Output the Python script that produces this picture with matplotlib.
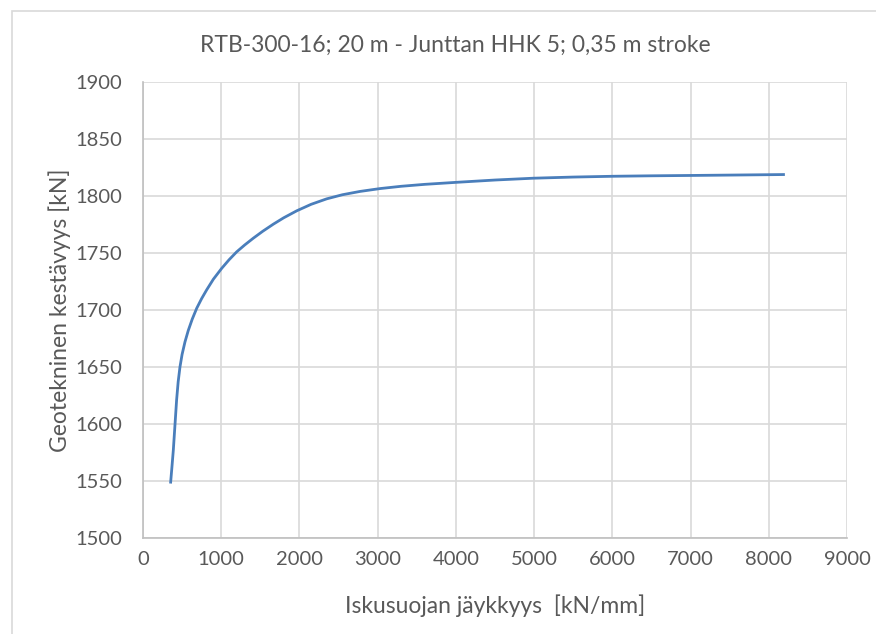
import matplotlib.pyplot as plt
from matplotlib.patches import Rectangle

# data
stiffness = [354, 370, 388, 410, 430, 450, 473, 500, 537, 579, 630, 687, 750, 814, 900,
             1006, 1100, 1198, 1300, 1411, 1530, 1667, 1800, 1966, 2150, 2349, 2550,
             2775, 3031, 3300, 3600, 4011, 4500, 4992, 5500, 6014, 6500, 6995, 7600, 8188]
resistance = [1549, 1562, 1577, 1600, 1621, 1637, 1650, 1661, 1672, 1682, 1692, 1701.5,
              1710, 1717.6, 1727, 1736.5, 1744, 1751, 1757, 1763, 1769, 1775.3, 1780.9, 1787,
              1792.7, 1797.5, 1801.1, 1804, 1806.5, 1808.5, 1810.2, 1812, 1814, 1815.6, 1816.6,
              1817.3, 1817.7, 1818, 1818.4, 1818.8]

title = "RTB-300-16; 20 m - Junttan HHK 5; 0,35 m stroke"
xlabel = "Iskusuojan jäykkyys  [kN/mm]"
ylabel = "Geotekninen kestävyys [kN]"

plt.rcParams['font.family'] = ['Lato', 'DejaVu Sans']
txt = '#595959'
gridc = '#d9d9d9'

fig = plt.figure(figsize=(8.76, 6.34), dpi=100)
ax = fig.add_axes([0.1632, 0.1514, 0.8037, 0.7193])

ax.plot(stiffness, resistance, color='#4a7ebb', lw=2, solid_joinstyle='round')

ax.set_xlim(0, 9000)
ax.set_ylim(1500, 1900)
ax.set_xticks(range(0, 9001, 1000))
ax.set_yticks(range(1500, 1901, 50))
ax.grid(True, color=gridc, lw=1.2)
ax.set_axisbelow(True)
for side in ['top', 'right']:
    ax.spines[side].set_visible(False)
for side in ['left', 'bottom']:
    ax.spines[side].set_color('#bfbfbf')
    ax.spines[side].set_linewidth(1.2)
ax.tick_params(length=0, labelsize=14.5, colors=txt)
ax.tick_params(axis='x', pad=9)
ax.tick_params(axis='y', pad=15)

ax.set_xlabel(xlabel, fontsize=16.5, color=txt, labelpad=19)
ax.set_ylabel(ylabel, fontsize=16.5, color=txt, labelpad=3)
fig.text(0.52, 1 - 45 / 634, title, ha='center', va='center', fontsize=16.5, color=txt)

# chart border
fig.patches.append(Rectangle((12 / 876, -0.1), 1.2, 1 - 11 / 634 + 0.1, transform=fig.transFigure,
                             fill=False, edgecolor='#d9d9d9', lw=1.2))

fig.savefig('out.png', dpi=100)
